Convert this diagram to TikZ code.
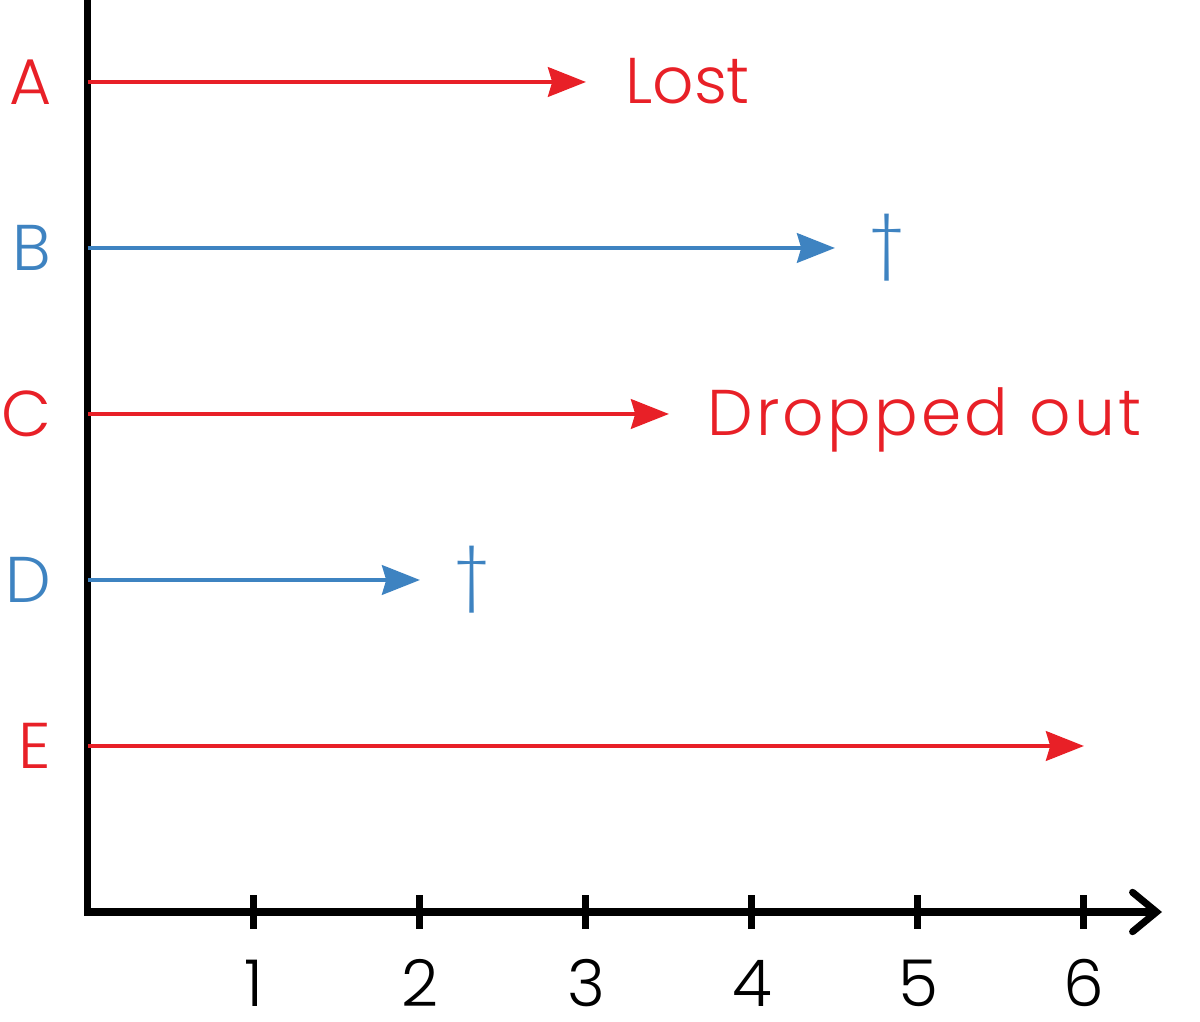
\documentclass[tikz,border=0pt]{standalone}
\usepackage{fontspec}
\setmainfont{Poppins Light}
\usepackage{xcolor}
\usetikzlibrary{arrows.meta}
\definecolor{lostred}{RGB}{232,32,39}
\definecolor{deadblue}{RGB}{62,131,193}

\begin{document}
\begin{tikzpicture}[x=4.15cm,y=4.15cm,
  every node/.style={font=\fontsize{46}{50}\selectfont, inner sep=0pt},
  rowline/.style={line width=3pt,-{Stealth[length=27pt,width=21pt,inset=3pt]}},
  axisline/.style={line width=5pt}]
\useasboundingbox (-0.530,-0.657) rectangle (6.699,5.494);
% axes
\coordinate (top) at (0,5.494);
\coordinate (O) at (0,0);
\coordinate (xend) at (6.47,0);
\draw[axisline,-{Straight Barb[length=17pt,width=28pt,line cap=round]}] (top) -- (O) -- (xend);
\foreach \x in {1,...,6}
  \draw[axisline] (\x,-0.1) -- (\x,0.1);
\foreach \x in {1,...,6}
  \node[anchor=base] (t\x) at (\x,-0.57) {\x};

% subjects
\foreach \y/\n/\e/\c in {5/A/3/lostred, 4/B/4.5/deadblue, 3/C/3.5/lostred,
                         2/D/2/deadblue, 1/E/6/lostred}{
  \coordinate (s\n) at (0,\y);
  \coordinate (e\n) at (\e,\y);
  \draw[rowline,color=\c] (s\n) -- (e\n);
  \node[anchor=east,text=\c] (l\n) at (-0.22,\y) {\n};
}

\node[anchor=base west,lostred] (lost) at (3.235,4.873) {Lost};
\node[anchor=base west,lostred] (drop) at (3.729,2.873)
  {\addfontfeatures{LetterSpace=5}Dropped out};
\node[deadblue] (dagB) at (4.813,4) {†};
\node[deadblue] (dagD) at (2.313,2) {†};
\end{tikzpicture}
\end{document}
